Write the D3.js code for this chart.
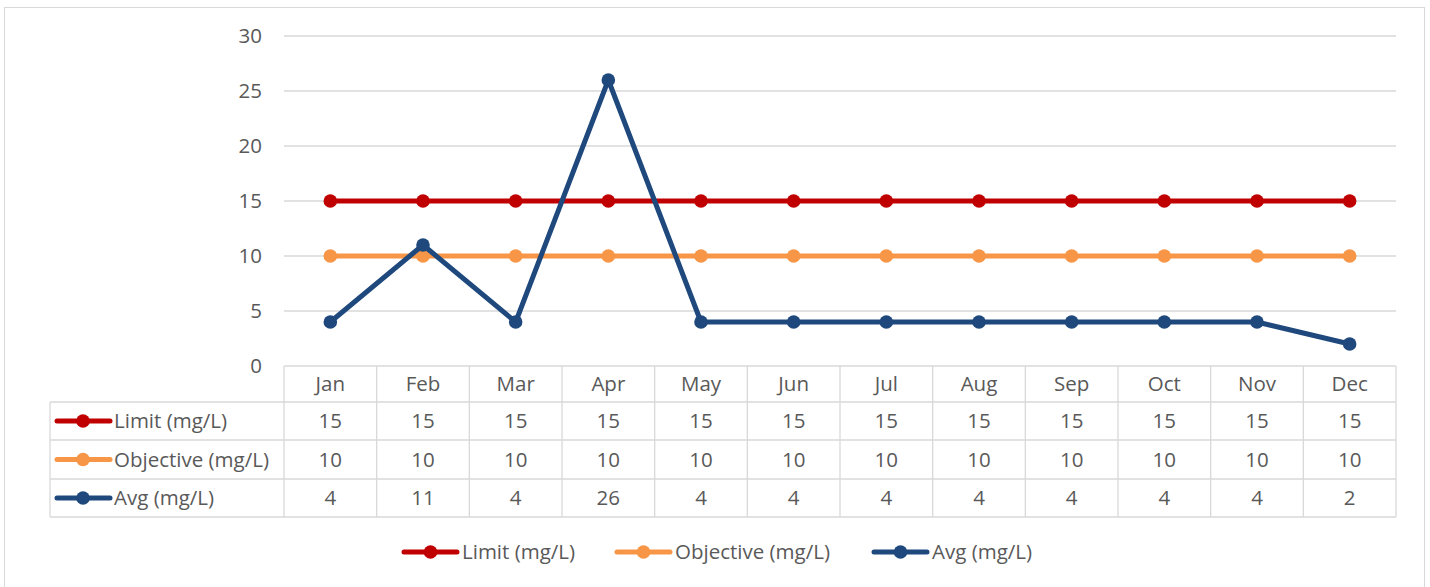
<!DOCTYPE html>
<html><head><meta charset="utf-8">
<script src="https://cdn.jsdelivr.net/npm/d3@7"></script>
<style>body{margin:0;background:#fff}svg{display:block}text{font-family:"Open Sans",sans-serif;fill:#595959}</style>
</head><body>
<script>
const months = ["Jan","Feb","Mar","Apr","May","Jun","Jul","Aug","Sep","Oct","Nov","Dec"];
const limitVals = [15,15,15,15,15,15,15,15,15,15,15,15];
const objectiveVals = [10,10,10,10,10,10,10,10,10,10,10,10];
const avgVals = [4,11,4,26,4,4,4,4,4,4,4,2];
const yTicks = [0,5,10,15,20,25,30];
const seriesNames = ["Limit (mg/L)","Objective (mg/L)","Avg (mg/L)"];
const seriesColors = ["#C00000","#F79646","#1F497D"];

const series = [limitVals, objectiveVals, avgVals].map((v,i)=>({name:seriesNames[i],color:seriesColors[i],values:v}));

const W=1430,H=587;
const svg=d3.select("body").append("svg").attr("width",W).attr("height",H);
svg.append("rect").attr("x",4.5).attr("y",7.5).attr("width",1420).attr("height",590).attr("fill","#fff").attr("stroke","#d9d9d9");

const x=d3.scaleBand().domain(months).range([284,1396]);
const y=d3.scaleLinear().domain([0,30]).range([366,36]);
const fs=20.5;
const lw=5, mr=6.8;

// gridlines
svg.append("g").selectAll("line").data(yTicks.filter(d=>d>0)).join("line")
 .attr("x1",284).attr("x2",1396).attr("y1",d=>y(d)).attr("y2",d=>y(d))
 .attr("stroke","#d9d9d9").attr("stroke-width",1.3);
svg.append("g").selectAll("text").data(yTicks).join("text")
 .attr("x",262).attr("y",d=>y(d)).attr("dy","0.35em").attr("text-anchor","end").attr("font-size",fs).text(d=>d);

// table
const rowTop=[366,402,440,479,517];
const tg=svg.append("g").attr("stroke","#d9d9d9").attr("stroke-width",1.3);
tg.append("line").attr("x1",284).attr("x2",1396).attr("y1",366).attr("y2",366);
[402,440,479,517].forEach(yy=>tg.append("line").attr("x1",50).attr("x2",1396).attr("y1",yy).attr("y2",yy));
const vx=months.map(m=>x(m)).concat([1396]);
vx.forEach(xx=>tg.append("line").attr("x1",xx).attr("x2",xx).attr("y1",366).attr("y2",517));
tg.append("line").attr("x1",50).attr("x2",50).attr("y1",402).attr("y2",517);

svg.append("g").selectAll("text").data(months).join("text")
 .attr("x",d=>x(d)+x.bandwidth()/2).attr("y",384).attr("dy","0.35em").attr("text-anchor","middle").attr("font-size",fs).text(d=>d);

series.forEach((s,i)=>{
  const cy=(rowTop[i+1]+rowTop[i+2])/2;
  svg.append("g").selectAll("text").data(s.values).join("text")
   .attr("x",(d,j)=>x(months[j])+x.bandwidth()/2).attr("y",cy).attr("dy","0.35em").attr("text-anchor","middle").attr("font-size",fs).text(d=>d);
  svg.append("line").attr("x1",57).attr("x2",110).attr("y1",cy).attr("y2",cy).attr("stroke",s.color).attr("stroke-width",lw).attr("stroke-linecap","round");
  svg.append("circle").attr("cx",83).attr("cy",cy).attr("r",mr).attr("fill",s.color);
  svg.append("text").attr("x",114).attr("y",cy).attr("dy","0.35em").attr("font-size",fs).text(s.name);
});

// lines
const line=d3.line().x((d,j)=>x(months[j])+x.bandwidth()/2).y(d=>y(d));
series.forEach(s=>{
  const g=svg.append("g");
  g.append("path").attr("d",line(s.values)).attr("fill","none").attr("stroke",s.color).attr("stroke-width",lw).attr("stroke-linejoin","round");
  g.selectAll("circle").data(s.values).join("circle").attr("cx",(d,j)=>x(months[j])+x.bandwidth()/2).attr("cy",d=>y(d)).attr("r",mr).attr("fill",s.color);
});

// legend
const legX=[404,617,874];
series.forEach((s,i)=>{
  const lx=legX[i], ly=552;
  svg.append("line").attr("x1",lx).attr("x2",lx+53).attr("y1",ly).attr("y2",ly).attr("stroke",s.color).attr("stroke-width",lw).attr("stroke-linecap","round");
  svg.append("circle").attr("cx",lx+26.5).attr("cy",ly).attr("r",mr).attr("fill",s.color);
  svg.append("text").attr("x",lx+58).attr("y",ly).attr("dy","0.35em").attr("font-size",fs).text(s.name);
});
</script>
</body></html>
